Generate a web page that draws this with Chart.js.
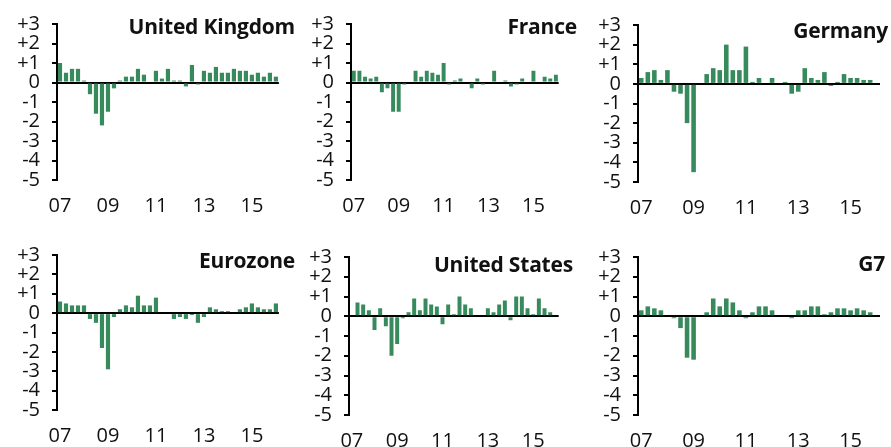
<!DOCTYPE html>
<html>
<head>
<meta charset="utf-8">
<script src="https://cdn.jsdelivr.net/npm/chart.js@4.4.1/dist/chart.umd.min.js"></script>
<style>
  html, body { margin: 0; padding: 0; background: #fff; }
  #wrap { position: relative; width: 891px; height: 447px; overflow: hidden; }
  .panel { position: absolute; }
  .title {
    position: absolute;
    font: 700 21px 'Open Sans', sans-serif;
    line-height: 21px;
    letter-spacing: -0.2px;
    color: #111;
    white-space: nowrap;
    text-align: right;
  }
</style>
</head>
<body>
<div id="wrap"></div>
<script>
// Quarterly GDP growth, % q/q, 2007Q1 – 2016Q1
const QUARTERS = [
  "2007Q1","2007Q2","2007Q3","2007Q4","2008Q1","2008Q2","2008Q3","2008Q4",
  "2009Q1","2009Q2","2009Q3","2009Q4","2010Q1","2010Q2","2010Q3","2010Q4",
  "2011Q1","2011Q2","2011Q3","2011Q4","2012Q1","2012Q2","2012Q3","2012Q4",
  "2013Q1","2013Q2","2013Q3","2013Q4","2014Q1","2014Q2","2014Q3","2014Q4",
  "2015Q1","2015Q2","2015Q3","2015Q4","2016Q1",
];
const YEAR_LABELS = ["07", "09", "11", "13", "15"];
const Y_MIN = -5;
const Y_MAX = 3;

const UK       = [1.0, 0.5, 0.7, 0.7, 0.1, -0.6, -1.6, -2.2, -1.5, -0.3, 0.1, 0.3, 0.3, 0.7, 0.4, 0.0, 0.6, 0.2, 0.7, 0.1, 0.1, -0.2, 0.9, -0.1, 0.6, 0.5, 0.8, 0.5, 0.5, 0.7, 0.6, 0.6, 0.4, 0.5, 0.3, 0.5, 0.3];
const FRANCE   = [0.6, 0.6, 0.3, 0.2, 0.3, -0.5, -0.3, -1.5, -1.5, -0.1, 0.0, 0.6, 0.3, 0.6, 0.5, 0.4, 1.0, -0.1, 0.1, 0.2, 0.0, -0.3, 0.2, -0.1, 0.0, 0.6, 0.0, 0.1, -0.2, -0.1, 0.2, 0.0, 0.6, 0.0, 0.3, 0.2, 0.4];
const GERMANY  = [0.3, 0.6, 0.7, 0.2, 0.7, -0.4, -0.5, -2.0, -4.5, 0.0, 0.5, 0.8, 0.7, 2.0, 0.7, 0.7, 1.9, 0.1, 0.3, 0.0, 0.3, 0.0, 0.1, -0.5, -0.4, 0.8, 0.3, 0.2, 0.6, -0.1, 0.1, 0.5, 0.3, 0.3, 0.2, 0.2, null];
const EUROZONE = [0.6, 0.5, 0.4, 0.4, 0.4, -0.3, -0.5, -1.8, -2.9, -0.2, 0.2, 0.4, 0.3, 0.9, 0.4, 0.4, 0.8, 0.0, 0.0, -0.3, -0.2, -0.3, -0.1, -0.5, -0.2, 0.3, 0.2, 0.1, 0.1, 0.0, 0.2, 0.3, 0.5, 0.3, 0.2, 0.2, 0.5];
const US       = [0.0, 0.7, 0.6, 0.3, -0.7, 0.4, -0.5, -2.0, -1.4, -0.1, 0.2, 0.9, 0.3, 0.9, 0.6, 0.5, -0.4, 0.6, 0.1, 1.0, 0.6, 0.4, 0.0, 0.0, 0.4, 0.2, 0.6, 0.8, -0.2, 1.0, 1.0, 0.4, 0.1, 0.9, 0.4, 0.2, null];
const G7       = [0.3, 0.5, 0.4, 0.3, 0.0, -0.1, -0.6, -2.1, -2.2, 0.0, 0.2, 0.9, 0.5, 0.9, 0.7, 0.3, -0.1, 0.2, 0.5, 0.5, 0.3, 0.0, 0.0, -0.1, 0.3, 0.3, 0.5, 0.5, 0.1, 0.2, 0.4, 0.4, 0.3, 0.4, 0.3, 0.2, null];

const BAR_COLOR = "#378a5c";

Chart.defaults.font.family = "'Open Sans', sans-serif";
Chart.defaults.font.size   = 20;
Chart.defaults.color       = "#111";

// panel boxes: canvas position, y-axis width, padding round the plot
const PANELS = [
  { title: "United Kingdom", data: UK,       left: 0,   top: 0,   w: 290, h: 225, axisW: 57, padTop: 24, padRight: 8,  xH: 45, titleRight: 295, titleTop: 16 },
  { title: "France",         data: FRANCE,   left: 295, top: 0,   w: 275, h: 225, axisW: 56, padTop: 24, padRight: 8,  xH: 45, titleRight: 577, titleTop: 16 },
  { title: "Germany",        data: GERMANY,  left: 585, top: 0,   w: 306, h: 225, axisW: 53, padTop: 25, padRight: 11, xH: 43, titleRight: 888, titleTop: 20 },
  { title: "Eurozone",       data: EUROZONE, left: 0,   top: 230, w: 290, h: 217, axisW: 57, padTop: 25, padRight: 8,  xH: 37, titleRight: 295, titleTop: 250 },
  { title: "United States",  data: US,       left: 295, top: 230, w: 275, h: 217, axisW: 54, padTop: 27, padRight: 10, xH: 32, titleRight: 573, titleTop: 254 },
  { title: "G7",             data: G7,       left: 585, top: 230, w: 306, h: 217, axisW: 53, padTop: 27, padRight: 11, xH: 32, titleRight: 885, titleTop: 253 },
];

function yearTick(value, index) {
  const q = QUARTERS[index];
  const yy = q.slice(2, 4);
  return q.endsWith("Q1") && YEAR_LABELS.includes(yy) ? yy : "";
}

function makePanel(p) {
  const wrap = document.getElementById("wrap");

  const box = document.createElement("div");
  box.className = "panel";
  box.style.cssText = `left:${p.left}px;top:${p.top}px;width:${p.w}px;height:${p.h}px`;
  const canvas = document.createElement("canvas");
  box.appendChild(canvas);
  wrap.appendChild(box);

  const title = document.createElement("div");
  title.className = "title";
  title.style.right = (891 - p.titleRight) + "px";
  title.style.top = p.titleTop + "px";
  title.textContent = p.title;
  wrap.appendChild(title);

  new Chart(canvas, {
    type: "bar",
    data: {
      labels: QUARTERS,
      datasets: [{
        data: p.data,
        backgroundColor: BAR_COLOR,
        borderWidth: 0,
        barPercentage: 0.7,
        categoryPercentage: 1.0,
      }],
    },
    options: {
      responsive: true,
      maintainAspectRatio: false,
      animation: false,
      layout: { padding: { top: p.padTop, right: p.padRight, bottom: 0, left: 0 } },
      plugins: { legend: { display: false }, tooltip: { enabled: false } },
      scales: {
        x: {
          grid: { display: false, drawTicks: false },
          border: { display: false },
          ticks: { autoSkip: false, maxRotation: 0, padding: 14, callback: yearTick },
          afterFit: s => { s.height = p.xH; },
        },
        y: {
          min: Y_MIN,
          max: Y_MAX,
          z: 1,
          border: { display: true, color: "#000", width: 2 },
          grid: {
            drawOnChartArea: true,
            color: ctx => (ctx.tick && ctx.tick.value === 0 ? "#000" : "rgba(0,0,0,0)"),
            tickColor: "#000",
            tickLength: 5,
            lineWidth: 2,
          },
          ticks: {
            stepSize: 1,
            autoSkip: false,
            padding: 12,
            callback: v => (v > 0 ? "+" + v : String(v)),
          },
          afterFit: s => { s.width = p.axisW; },
        },
      },
    },
  });
}

PANELS.forEach(makePanel);
</script>
</body>
</html>
